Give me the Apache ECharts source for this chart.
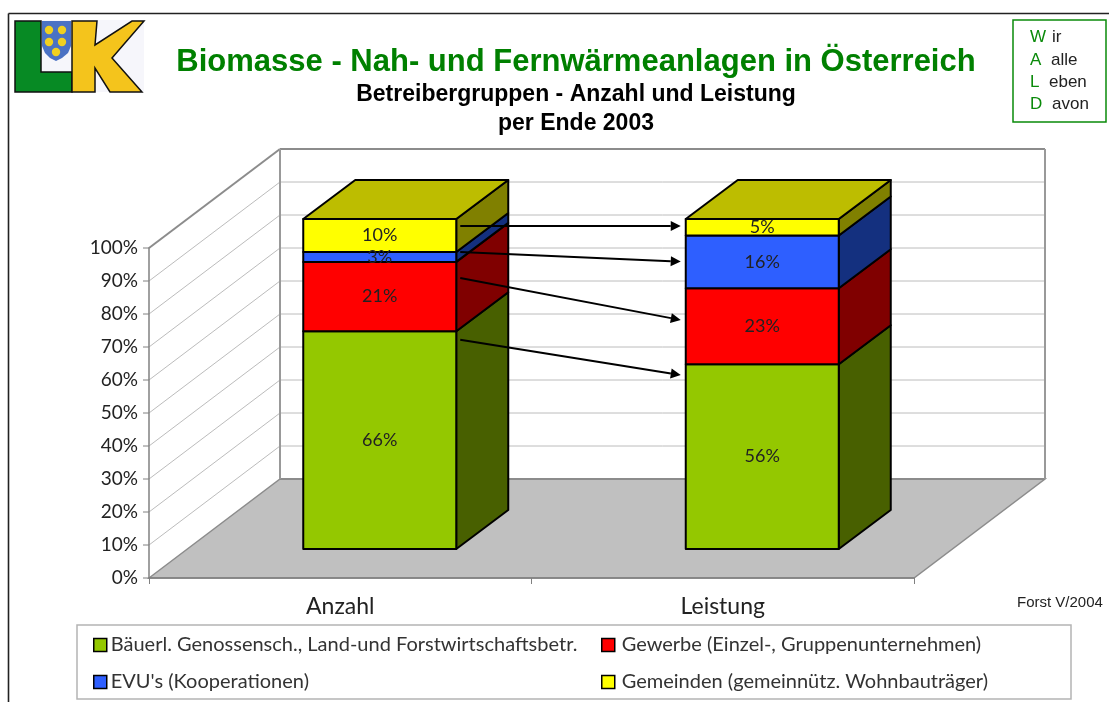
<!DOCTYPE html>
<html>
<head>
<meta charset="utf-8">
<style>
	html, body { margin: 0; padding: 0; background: #fff; }
	#chart { width: 1109px; height: 702px; }
</style>
<script src="https://cdn.jsdelivr.net/npm/echarts@6/dist/echarts.min.js"></script>
</head>
<body>
<div id="chart"></div>
<script>
	const categories = ['Anzahl', 'Leistung'];
	const groupNames = [
		'Bäuerl. Genossensch., Land-und Forstwirtschaftsbetr.',
		'Gewerbe (Einzel-, Gruppenunternehmen)',
		"EVU's (Kooperationen)",
		'Gemeinden (gemeinnütz. Wohnbauträger)'
	];
	const bauern = [66, 56];
	const gewerbe = [21, 23];
	const evu = [3, 16];
	const gemeinden = [10, 5];
	const yTicks = [0, 10, 20, 30, 40, 50, 60, 70, 80, 90, 100];
	// arrows between the two columns, read as percent heights
	const arrowFrom = [97.9, 90, 82.1, 63.4];
	const arrowTo = [97.9, 87.1, 69.4, 52.7];

	const frontColors = ['#94c800', '#ff0000', '#2e5fff', '#ffff00'];
	const sideColors = ['#486000', '#800000', '#14307f', '#808000'];
	const topColor = '#bdbd00';
	const labelFont = 'Lato, "Open Sans", sans-serif';

	// 3d look: wall depth, where the column stands on the floor, column depth
	const WALL_DX = 131, WALL_DY = -99;
	const FLOOR_DX = 39.5, FLOOR_DY = -29;
	const BAR_DX = 52, BAR_DY = -39;

	function drawWall(params, api) {
		let box = params.coordSys;
		let tick = api.value(0);
		let y = api.coord([0, tick])[1];
		let x0 = box.x, x1 = box.x + box.width;
		let children = [];
		let strong = tick === 0 || tick === 100;
		let lineStyle = { stroke: strong ? '#8c8c8c' : '#bcbcbc', lineWidth: strong ? 2 : 1, fill: null };
		if (tick === 0) {
			children.push({
				type: 'polygon',
				shape: { points: [[x0, y], [x0 + WALL_DX, y + WALL_DY], [x1 + WALL_DX, y + WALL_DY], [x1, y]] },
				style: { fill: '#c0c0c0', stroke: '#8c8c8c', lineWidth: 1.5 }
			});
		} else {
			children.push({ type: 'line', shape: { x1: x0, y1: y, x2: x0 + WALL_DX, y2: y + WALL_DY }, style: lineStyle });
		}
		children.push({ type: 'line', shape: { x1: x0 + WALL_DX, y1: y + WALL_DY, x2: x1 + WALL_DX, y2: y + WALL_DY }, style: lineStyle });
		// small tick left of the axis
		children.push({ type: 'line', shape: { x1: x0 - 6, y1: y, x2: x0, y2: y }, style: { stroke: '#808080', lineWidth: 1 } });
		if (tick === 100) {
			let yb = api.coord([0, 0])[1];
			let edge = { stroke: '#999', lineWidth: 2 };
			children.push({ type: 'line', shape: { x1: x0 + WALL_DX, y1: y + WALL_DY, x2: x0 + WALL_DX, y2: yb + WALL_DY }, style: edge });
			children.push({ type: 'line', shape: { x1: x1 + WALL_DX, y1: y + WALL_DY, x2: x1 + WALL_DX, y2: yb + WALL_DY }, style: edge });
		}
		return { type: 'group', children: children };
	}

	function drawLayer(layer) {
		return function (params, api) {
			let cat = api.value(0);
			let from = api.coord([cat, api.value(1)]);
			let to = api.coord([cat, api.value(2)]);
			let w = api.size([1, 0])[0] * 0.4;
			let left = from[0] + FLOOR_DX - w / 2, right = left + w;
			let yb = from[1] + FLOOR_DY, yt = to[1] + FLOOR_DY;
			let edge = { stroke: '#000', lineWidth: 2, lineJoin: 'round' };
			let children = [
				{
					type: 'polygon',
					shape: { points: [[right, yb], [right + BAR_DX, yb + BAR_DY], [right + BAR_DX, yt + BAR_DY], [right, yt]] },
					style: Object.assign({ fill: sideColors[layer] }, edge)
				},
				{
					type: 'rect',
					shape: { x: left, y: yt, width: w, height: yb - yt },
					style: Object.assign({ fill: frontColors[layer] }, edge)
				}
			];
			if (layer === 3) {
				children.push({
					type: 'polygon',
					shape: { points: [[left, yt], [left + BAR_DX, yt + BAR_DY], [right + BAR_DX, yt + BAR_DY], [right, yt]] },
					style: Object.assign({ fill: topColor }, edge)
				});
			}
			children.push({
				type: 'text',
				z2: 10,
				style: {
					x: (left + right) / 2,
					y: (yb + yt) / 2,
					text: (api.value(2) - api.value(1)) + '%',
					align: 'center',
					verticalAlign: 'middle',
					font: '18px ' + labelFont,
					fill: '#222'
				}
			});
			return { type: 'group', children: children };
		};
	}

	function drawArrow(params, api) {
		let w = api.size([1, 0])[0] * 0.4;
		let start = api.coord([0, api.value(0)]);
		let end = api.coord([1, api.value(1)]);
		let x0 = start[0] + FLOOR_DX + w / 2 + 4, y0 = start[1] + FLOOR_DY;
		let x1 = end[0] + FLOOR_DX - w / 2 - 5, y1 = end[1] + FLOOR_DY;
		let angle = Math.atan2(y1 - y0, x1 - x0);
		let len = 10, half = 5;
		let bx = x1 - len * Math.cos(angle), by = y1 - len * Math.sin(angle);
		let nx = -Math.sin(angle) * half, ny = Math.cos(angle) * half;
		return {
			type: 'group',
			children: [
				{ type: 'line', shape: { x1: x0, y1: y0, x2: bx, y2: by }, style: { stroke: '#000', lineWidth: 2 } },
				{ type: 'polygon', shape: { points: [[x1, y1], [bx + nx, by + ny], [bx - nx, by - ny]] }, style: { fill: '#000' } }
			]
		};
	}

	// stacked layers: every item is [category, from, to]
	const layers = [bauern, gewerbe, evu, gemeinden];
	let running = categories.map(() => 0);
	let layerSeries = layers.map((values, layer) => {
		let data = values.map((v, i) => {
			let item = [i, running[i], running[i] + v];
			running[i] += v;
			return item;
		});
		return {
			name: groupNames[layer],
			type: 'custom',
			z: 2,
			itemStyle: { color: frontColors[layer] },
			renderItem: drawLayer(layer),
			data: data
		};
	});

	function legendColumn(left, names, textGap) {
		return {
			left: left,
			top: 635,
			padding: 0,
			orient: 'vertical',
			icon: 'rect',
			itemWidth: 13,
			itemHeight: 13,
			itemGap: 17,
			selectedMode: false,
			itemStyle: { borderColor: '#000', borderWidth: 1.5 },
			textStyle: { fontFamily: labelFont, fontSize: 20, color: '#333', padding: [0, 0, 0, textGap] },
			data: names
		};
	}

	function waldLine(y, letter, rest, restX) {
		return [
			{ type: 'text', style: { x: 1030, y: y, text: letter, font: '17px "Liberation Sans"', fill: '#0a8a0a', verticalAlign: 'middle' } },
			{ type: 'text', style: { x: restX, y: y, text: rest, font: '17px "Liberation Sans"', fill: '#222', verticalAlign: 'middle' } }
		];
	}

	const logo = [
		{ type: 'rect', shape: { x: 15, y: 20, width: 129, height: 72 }, style: { fill: '#f6f6fb' } },
		{
			type: 'polygon',
			shape: { points: [[15, 21], [41, 21], [41, 72], [72, 72], [72, 92], [15, 92]] },
			style: { fill: '#078a24', stroke: '#111', lineWidth: 1.5 }
		},
		{
			type: 'polygon',
			shape: { points: [[42, 21], [71, 21], [71, 46], [68, 53], [62, 58], [56, 61], [50, 58], [45, 53], [42, 46]] },
			style: { fill: '#4a72c4' }
		},
		{
			type: 'polygon',
			shape: { points: [[72, 21], [97, 21], [95, 45], [132, 21], [144, 21], [112, 58], [142, 92], [110, 92], [95, 68], [95, 92], [72, 92]] },
			style: { fill: '#f4c41c', stroke: '#111', lineWidth: 1.5 }
		}
	].concat([[49, 30], [62, 30], [49, 42], [62, 42], [56, 52]].map(p => ({
		type: 'circle',
		shape: { cx: p[0], cy: p[1], r: 4.2 },
		style: { fill: '#f0d020' }
	})));

	let myChart = echarts.init(document.getElementById('chart'), null, { renderer: 'canvas' });
	let option = {
		animation: false,
		backgroundColor: '#fff',
		tooltip: { show: false },
		title: [
			{
				text: 'Biomasse - Nah- und Fernwärmeanlagen in Österreich',
				left: 576, top: 47, textAlign: 'center', padding: 0,
				textStyle: { fontFamily: '"Liberation Sans"', fontWeight: 'bold', fontSize: 31, color: '#008000' }
			},
			{
				text: 'Betreibergruppen - Anzahl und Leistung',
				left: 576, top: 83, textAlign: 'center', padding: 0,
				textStyle: { fontFamily: '"Liberation Sans"', fontWeight: 'bold', fontSize: 23, color: '#000' }
			},
			{
				text: 'per Ende 2003',
				left: 576, top: 112, textAlign: 'center', padding: 0,
				textStyle: { fontFamily: '"Liberation Sans"', fontWeight: 'bold', fontSize: 23, color: '#000' }
			}
		],
		grid: { left: 149, right: 195, top: 248, height: 330 },
		xAxis: {
			type: 'category',
			data: categories,
			z: 3,
			axisLine: { lineStyle: { color: '#808080', width: 1.5 } },
			axisTick: { show: true, alignWithLabel: false, length: 6, lineStyle: { color: '#808080', width: 1 } },
			axisLabel: { margin: 17, fontFamily: labelFont, fontSize: 23, color: '#222' }
		},
		yAxis: {
			type: 'value',
			min: 0,
			max: 100,
			interval: 10,
			z: 3,
			axisLine: { show: true, lineStyle: { color: '#808080', width: 1.5 } },
			axisTick: { show: false },
			splitLine: { show: false },
			axisLabel: { margin: 11, formatter: '{value}%', fontFamily: labelFont, fontSize: 19, color: '#222' }
		},
		legend: [
			legendColumn(93, [groupNames[0], groupNames[2]], -1),
			legendColumn(601, [groupNames[1], groupNames[3]], 2)
		],
		graphic: [
			{ type: 'line', shape: { x1: 8.5, y1: 13.5, x2: 8.5, y2: 702 }, style: { stroke: '#222', lineWidth: 1.6 } },
			{ type: 'line', shape: { x1: 8.5, y1: 13.5, x2: 1109, y2: 13.5 }, style: { stroke: '#222', lineWidth: 1.6 } },
			{ type: 'rect', shape: { x: 77, y: 625, width: 994, height: 74 }, style: { fill: '#fff', stroke: '#b4b4b4', lineWidth: 1.5 } },
			{ type: 'rect', shape: { x: 1013, y: 20, width: 93, height: 102 }, style: { fill: '#fff', stroke: '#0a8a0a', lineWidth: 1.5 } },
			{ type: 'text', style: { x: 1017, y: 603, text: 'Forst V/2004', font: '15px "Liberation Sans"', fill: '#222', verticalAlign: 'middle' } }
		].concat(
			waldLine(37, 'W', 'ir', 1052),
			waldLine(60, 'A', 'alle', 1051),
			waldLine(82, 'L', 'eben', 1049),
			waldLine(104, 'D', 'avon', 1052),
			logo
		),
		series: [
			{
				type: 'custom',
				z: 1,
				renderItem: drawWall,
				data: yTicks.map(t => [t])
			}
		].concat(layerSeries, [
			{
				type: 'custom',
				z: 3,
				renderItem: drawArrow,
				data: arrowFrom.map((v, i) => [v, arrowTo[i]])
			}
		])
	};
	myChart.setOption(option);
</script>
</body>
</html>
